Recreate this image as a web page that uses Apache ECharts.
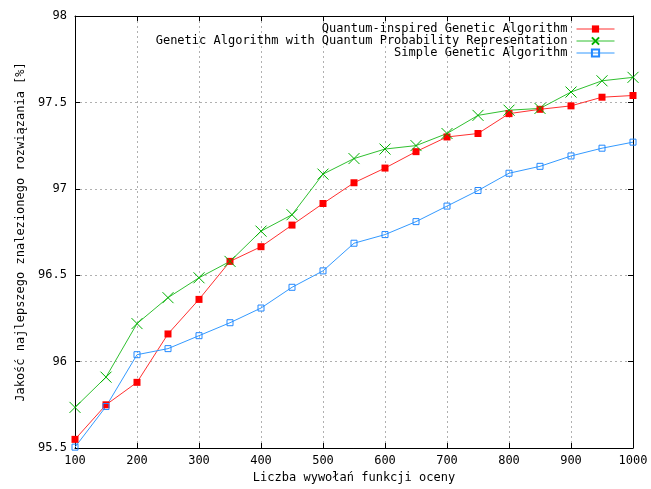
<!DOCTYPE html>
<html>
<head>
<meta charset="utf-8">
<script src="https://cdn.jsdelivr.net/npm/echarts@6/dist/echarts.min.js"></script>
<style>html,body{margin:0;padding:0;background:#fff}#c{width:651px;height:489px}</style>
</head>
<body>
<div id="c"></div>
<script>
const evaluations = [100,150,200,250,300,350,400,450,500,550,600,650,700,750,800,850,900,950,1000];
const qiga = [95.55,95.75,95.88,96.16,96.36,96.58,96.665,96.79,96.915,97.035,97.12,97.215,97.30,97.32,97.435,97.46,97.48,97.53,97.54];
const gaqpr = [95.735,95.91,96.22,96.37,96.485,96.58,96.755,96.85,97.085,97.175,97.23,97.25,97.32,97.425,97.455,97.465,97.56,97.625,97.645];
const sga = [95.505,95.74,96.04,96.075,96.15,96.225,96.31,96.43,96.525,96.685,96.735,96.81,96.90,96.99,97.09,97.13,97.19,97.235,97.27];
const seriesNames = ['Quantum-inspired Genetic Algorithm','Genetic Algorithm with Quantum Probability Representation','Simple Genetic Algorithm'];
const xTitle = 'Liczba wywołań funkcji oceny';
const yTitle = 'Jakość najlepszego znalezionego rozwiązania [%]';

const font = 'DejaVu Sans Mono';
const pair = arr => evaluations.map((x,i)=>[x,arr[i]]);
const chart = echarts.init(document.getElementById('c'), null, {renderer:'canvas'});
const frame = {show:true, lineStyle:{color:'#000', width:1}};
const tick = {show:true, inside:true, length:5, lineStyle:{color:'#000'}};
chart.setOption({
  animation:false,
  backgroundColor:'#fff',
  textStyle:{fontFamily:font},
  grid:{left:75, right:18, top:16, bottom:39, containLabel:false},
  legend:{
    orient:'vertical', right:31, top:18, align:'right', itemGap:0,
    itemWidth:38, itemHeight:9, selectedMode:false,
    lineStyle:{width:1},
    textStyle:{fontFamily:font, fontSize:12, color:'#000', lineHeight:12, padding:[0,4,0,0]},
    data:seriesNames
  },
  xAxis:[{
    type:'value', min:100, max:1000, interval:100, position:'bottom',
    name:xTitle, nameLocation:'middle', nameGap:24,
    nameTextStyle:{fontFamily:font, fontSize:12, color:'#000'},
    axisLine:frame, axisTick:tick,
    axisLabel:{fontFamily:font, fontSize:12, color:'#000', margin:7, formatter:v=>String(v)},
    splitLine:{show:true, lineStyle:{type:[2,3], color:'#b0b0b0', width:1}}
  },{
    type:'value', min:100, max:1000, interval:100, position:'top',
    axisLine:frame, axisTick:tick, axisLabel:{show:false}, splitLine:{show:false}
  }],
  yAxis:[{
    type:'value', min:95.5, max:98, interval:0.5, position:'left',
    name:yTitle, nameLocation:'middle', nameGap:46,
    nameTextStyle:{fontFamily:font, fontSize:12, color:'#000'},
    axisLine:frame, axisTick:tick,
    axisLabel:{fontFamily:font, fontSize:12, color:'#000', margin:8},
    splitLine:{show:true, lineStyle:{type:[2,3], color:'#b0b0b0', width:1}}
  },{
    type:'value', min:95.5, max:98, interval:0.5, position:'right',
    axisLine:frame, axisTick:tick, axisLabel:{show:false}, splitLine:{show:false}
  }],
  series:[{
    name:seriesNames[0], type:'line', data:pair(qiga),
    symbol:'rect', symbolSize:7,
    lineStyle:{color:'#ff3030', width:1},
    itemStyle:{color:'#ff0000', borderWidth:0}
  },{
    name:seriesNames[1], type:'line', data:pair(gaqpr),
    symbol:'path://M0,0L10,10M10,0L0,10', symbolSize:11,
    lineStyle:{color:'#30c030', width:1},
    itemStyle:{color:'rgba(0,0,0,0)', borderColor:'#00b000', borderWidth:1}
  },{
    name:seriesNames[2], type:'line', data:pair(sga),
    symbol:'rect', symbolSize:6,
    lineStyle:{color:'#3399ff', width:1},
    itemStyle:{color:'rgba(255,255,255,0)', borderColor:'#2288ff', borderWidth:1}
  }]
});
</script>
</body>
</html>
